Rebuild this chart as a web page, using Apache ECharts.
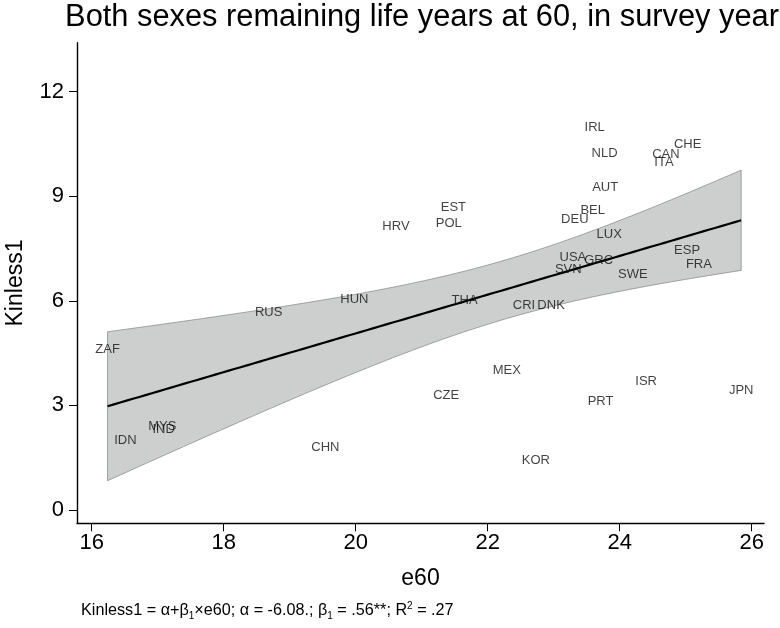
<!DOCTYPE html>
<html>
<head>
<meta charset="utf-8">
<script src="https://cdn.jsdelivr.net/npm/echarts@6/dist/echarts.min.js"></script>
<style>
html,body{margin:0;padding:0;background:#fff;}
#chart{width:780px;height:628px;}
</style>
</head>
<body>
<div id="chart"></div>
<script>
// ---- data ----
const countries = ["ZAF","IDN","MYS","IND","RUS","CHN","HUN","HRV","POL","EST","CZE","THA","MEX","CRI","KOR","DNK","SVN","USA","DEU","BEL","IRL","GRC","PRT","NLD","AUT","LUX","SWE","ISR","ITA","CAN","ESP","CHE","FRA","JPN"];
const e60 = [16.24,16.51,17.07,17.09,18.68,19.54,19.98,20.61,21.41,21.48,21.37,21.65,22.29,22.55,22.73,22.96,23.22,23.29,23.32,23.59,23.62,23.68,23.71,23.77,23.78,23.84,24.20,24.40,24.67,24.70,25.02,25.03,25.20,25.84];
const kinless1 = [4.61,2.01,2.39,2.31,5.67,1.80,6.04,8.13,8.22,8.68,3.30,6.00,3.99,5.88,1.41,5.88,6.90,7.25,8.32,8.59,10.97,7.15,3.11,10.23,9.26,7.91,6.77,3.68,9.96,10.20,7.44,10.47,7.05,3.42];
const xTicks = [16,18,20,22,24,26];
const yTicks = [0,3,6,9,12];
const titleText = "Both sexes remaining life years at 60, in survey year";
const xName = "e60";
const yName = "Kinless1";

// ---- linear fit with 95% CI (as lfitci) computed from the data ----
const n = e60.length;
const mx = e60.reduce((a,b)=>a+b,0)/n;
const my = kinless1.reduce((a,b)=>a+b,0)/n;
let sxx=0, sxy=0;
for(let i=0;i<n;i++){ sxx += (e60[i]-mx)**2; sxy += (e60[i]-mx)*(kinless1[i]-my); }
const beta = sxy/sxx, alpha = my - beta*mx;
let ssr=0;
for(let i=0;i<n;i++){ ssr += (kinless1[i]-alpha-beta*e60[i])**2; }
const s = Math.sqrt(ssr/(n-2));
const tcrit = 2.0369; // t(0.975, df=32)
const xmin = Math.min(...e60), xmax = Math.max(...e60);
const upper=[], lower=[], fit=[];
const steps = 100;
for(let k=0;k<=steps;k++){
  const x = xmin + (xmax-xmin)*k/steps;
  const yh = alpha + beta*x;
  const se = s*Math.sqrt(1/n + (x-mx)**2/sxx);
  upper.push([x, yh + tcrit*se]);
  lower.push([x, yh - tcrit*se]);
  fit.push([x, yh]);
}

const font = '"Liberation Sans", Arial, Helvetica, sans-serif';
const chart = echarts.init(document.getElementById('chart'), null, {renderer:'canvas'});
chart.setOption({
  animation:false,
  backgroundColor:'#fff',
  grid:{left:77, right:16, top:42.7, bottom:104.7, containLabel:false, outerBoundsMode:'none'},
  xAxis:{
    type:'value', min:15.777, max:26.186,
    name:xName, nameLocation:'middle', nameGap:44,
    nameTextStyle:{fontSize:23, color:'#000', fontFamily:font},
    axisLine:{show:true, onZero:false, lineStyle:{color:'#000', width:1.4}},
    axisTick:{show:true, length:8, lineStyle:{color:'#000', width:1}, customValues:xTicks},
    axisLabel:{fontSize:22, color:'#000', fontFamily:font, margin:9, customValues:xTicks},
    splitLine:{show:false}
  },
  yAxis:{
    type:'value', min:-0.38, max:13.4,
    name:yName, nameLocation:'middle', nameGap:50, nameRotate:90,
    nameTextStyle:{fontSize:23, color:'#000', fontFamily:font},
    axisLine:{show:true, onZero:false, lineStyle:{color:'#000', width:1.4}},
    axisTick:{show:true, length:8, lineStyle:{color:'#000', width:1}, customValues:yTicks},
    axisLabel:{fontSize:22, color:'#000', fontFamily:font, margin:13, customValues:yTicks},
    splitLine:{show:false}
  },
  graphic:[
    {type:'text', x:422, y:2, style:{text:titleText, font:'30.8px '+font, fill:'#000', align:'center', verticalAlign:'top'}},
    {type:'text', x:81, y:611, style:{
      text:'Kinless1 = α+β{sub|1}×e60; α = -6.08.; β{sub|1} = .56**; R{sup|2} = .27',
      font:'16.2px '+font, fill:'#000', align:'left', verticalAlign:'middle', lineHeight:20,
      rich:{
        sub:{fontSize:10, fontFamily:font, verticalAlign:'bottom', lineHeight:10, fill:'#000'},
        sup:{fontSize:10, fontFamily:font, verticalAlign:'top', lineHeight:10, fill:'#000'}
      }
    }}
  ],
  series:[
    {
      type:'custom', coordinateSystem:'cartesian2d', silent:true, z:1,
      data:[[xmin, alpha+beta*xmin]],
      renderItem:function(params, api){
        const pts = upper.map(p=>api.coord(p)).concat(lower.slice().reverse().map(p=>api.coord(p)));
        return {type:'polygon', shape:{points:pts}, style:{fill:'#cdcfcf', stroke:'#8e8e8e', lineWidth:0.8}};
      }
    },
    {
      type:'line', data:fit, showSymbol:false, symbol:'none', silent:true, z:2,
      lineStyle:{color:'#000', width:2.2}
    },
    {
      type:'scatter', z:3, symbolSize:1, silent:true,
      itemStyle:{color:'rgba(0,0,0,0)'},
      data: countries.map((c,i)=>({name:c, value:[e60[i], kinless1[i]]})),
      label:{show:true, position:'inside', formatter:'{b}', fontSize:13, color:'#111', fontFamily:font}
    }
  ]
});
</script>
</body>
</html>
